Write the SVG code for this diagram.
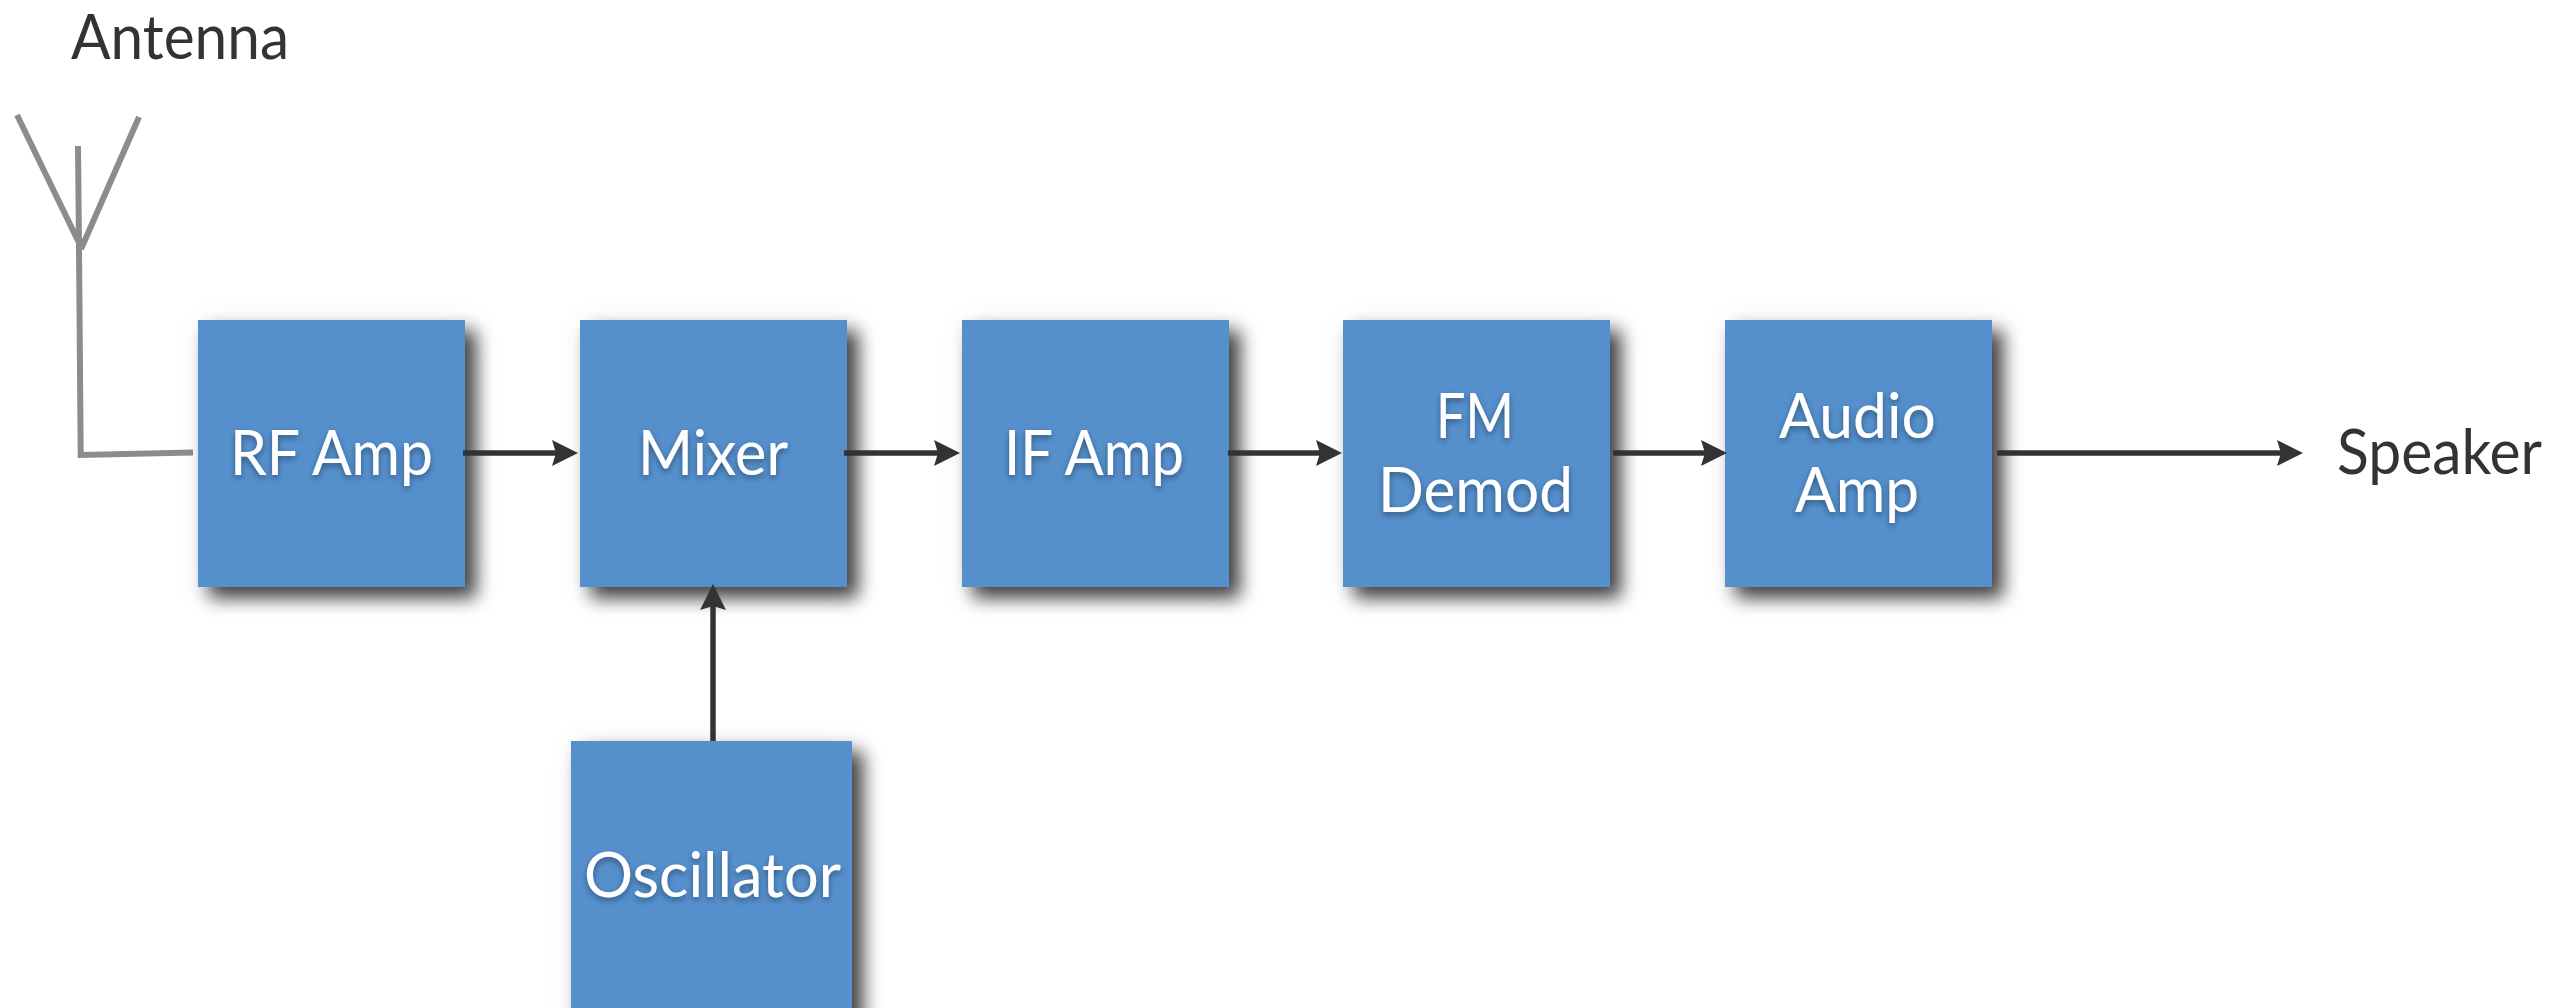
<svg xmlns="http://www.w3.org/2000/svg" width="2570" height="1008" viewBox="0 0 2570 1008">
<style>
.box{fill:#5490cd;filter:url(#ds)}
.t{font-family:Lato,"Open Sans",sans-serif;font-size:62px;text-anchor:start}
.w{fill:#fff;filter:url(#ts)}
.d{fill:#333}
.c{fill:none;stroke:#333;stroke-width:5.500;marker-end:url(#a)}
.ant{fill:none;stroke:#8c8c8c;stroke-width:6}
</style>
<defs>
<filter id="ds" filterUnits="userSpaceOnUse" x="0" y="0" width="2570" height="1100">
<feGaussianBlur in="SourceAlpha" stdDeviation="9" result="b1"/>
<feOffset in="b1" dx="11" dy="11" result="o1"/>
<feFlood flood-color="#000" flood-opacity=".72"/>
<feComposite in2="o1" operator="in" result="s1"/>
<feGaussianBlur in="SourceAlpha" stdDeviation="14" result="b2"/>
<feOffset in="b2" dx="6" dy="6" result="o2"/>
<feFlood flood-color="#000" flood-opacity=".12"/>
<feComposite in2="o2" operator="in" result="s2"/>
<feMerge><feMergeNode in="s2"/><feMergeNode in="s1"/><feMergeNode in="SourceGraphic"/></feMerge>
</filter>
<filter id="ts" x="-10%" y="-20%" width="120%" height="150%">
<feDropShadow dx="0" dy="3" stdDeviation="3" flood-color="#000" flood-opacity=".4"/>
</filter>
<marker id="a" markerUnits="userSpaceOnUse" markerWidth="30" markerHeight="30" refX="5" refY="13" orient="auto">
<path d="M0 0L26 13L0 26L4 13Z" fill="#333"/>
</marker>
</defs>
<g id="antenna">
<path class="ant" d="M17 115L82 249M139 117L81 249M78 146L79 247L80.700 455L193 452.500"/>
</g>
<g id="rf-amp"><rect class="box" x="198" y="320" width="267" height="267"/><text class="t w" x="230" y="475" textLength="203" lengthAdjust="spacingAndGlyphs">RF Amp</text></g>
<g id="mixer"><rect class="box" x="580" y="320" width="267" height="267"/><text class="t w" x="638" y="475" textLength="150" lengthAdjust="spacingAndGlyphs">Mixer</text></g>
<g id="if-amp"><rect class="box" x="962" y="320" width="267" height="267"/><text class="t w" x="1004" y="475" textLength="180" lengthAdjust="spacingAndGlyphs">IF Amp</text></g>
<g id="fm-demod"><rect class="box" x="1343" y="320" width="267" height="267"/><text class="t w" x="1436" y="438" textLength="78" lengthAdjust="spacingAndGlyphs">FM</text><text class="t w" x="1378" y="512" textLength="195" lengthAdjust="spacingAndGlyphs">Demod</text></g>
<g id="audio-amp"><rect class="box" x="1725" y="320" width="267" height="267"/><text class="t w" x="1779" y="438" textLength="157" lengthAdjust="spacingAndGlyphs">Audio</text><text class="t w" x="1795" y="512" textLength="124" lengthAdjust="spacingAndGlyphs">Amp</text></g>
<g id="oscillator"><rect class="box" x="571" y="741" width="281" height="290"/><text class="t w" x="584" y="897" textLength="257" lengthAdjust="spacingAndGlyphs">Oscillator</text></g>
<g id="antenna-label"><text class="t d" x="71" y="59" textLength="218" lengthAdjust="spacingAndGlyphs">Antenna</text></g>
<g id="speaker-label"><text class="t d" x="2337" y="474" textLength="205" lengthAdjust="spacingAndGlyphs">Speaker</text></g>
<g id="connectors">
<path class="c" d="M463 453H557"/>
<path class="c" d="M844 453H939"/>
<path class="c" d="M1228 453H1321"/>
<path class="c" d="M1613 453H1706"/>
<path class="c" d="M1997 453H2282"/>
<path class="c" d="M713 741V605"/>
</g>
</svg>
